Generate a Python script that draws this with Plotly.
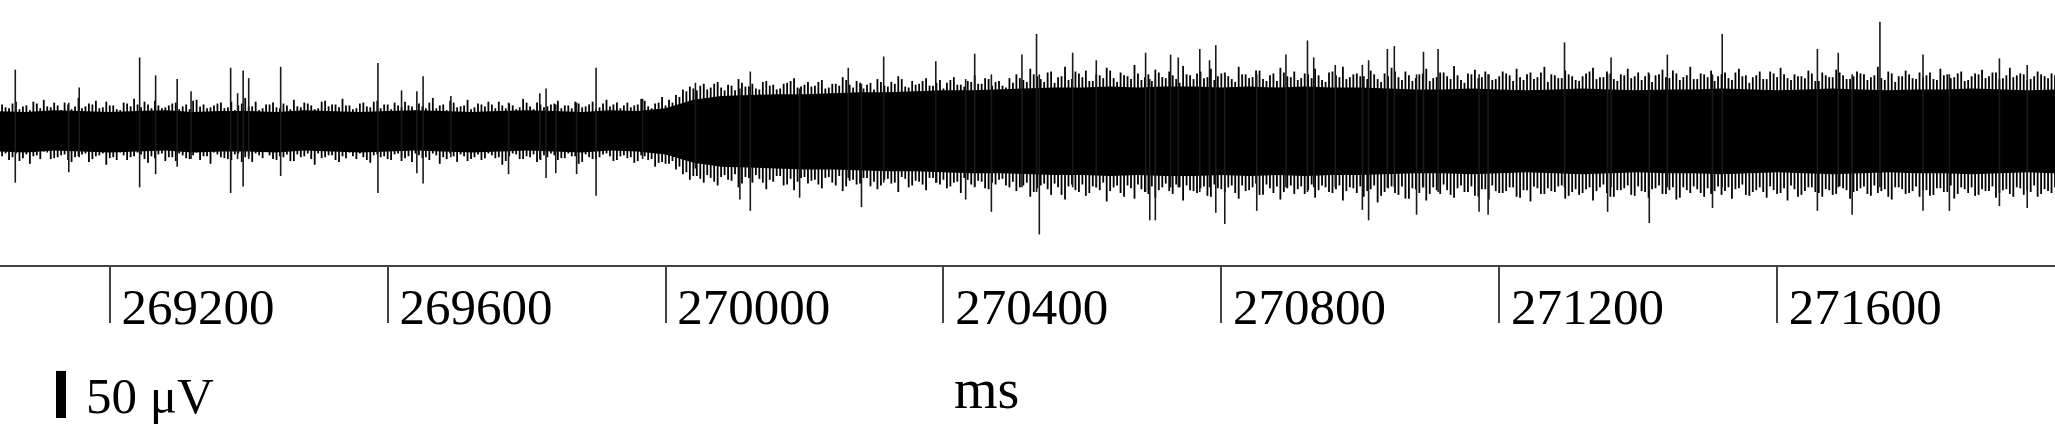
import plotly.graph_objects as go

# ---------------- data (µV vs ms) ----------------
x_range = [269042, 272000]
tick_vals = [269200, 269600, 270000, 270400, 270800, 271200, 271600]
tick_text = ["269200", "269600", "270000", "270400", "270800", "271200", "271600"]

# dense core of the recording, sampled every 40 ms from 269040 ms
core_t0, core_dt = 269040, 40
core_hi = [21, 20, 22, 21, 20, 21, 22, 20, 21, 21, 20, 22, 21, 20, 21, 22, 21, 20, 21, 22, 21, 20, 22, 21,
           24, 33, 37, 38, 39, 39, 40, 41, 41, 42, 43, 43, 44, 45, 46, 46, 47, 46, 47, 47, 46, 47, 46, 47, 46, 46,
           45, 44, 44, 45, 44, 43, 44, 45, 44, 43, 44, 44, 45, 44, 43, 44, 45, 44, 43, 44, 44, 45, 44, 43, 44]
core_lo = [-22, -23, -21, -22, -23, -22, -21, -23, -22, -22, -23, -21, -22, -23, -22, -21, -22, -23, -22, -21, -22, -23, -21, -22,
           -25, -34, -38, -39, -40, -41, -41, -42, -43, -43, -44, -45, -45, -46, -47, -47, -48, -47, -48, -48, -47, -48, -47, -48, -47, -47,
           -46, -45, -45, -46, -45, -44, -45, -46, -45, -44, -45, -45, -46, -45, -44, -45, -46, -45, -44, -45, -45, -46, -45, -44, -45]

# outer fringe of the trace (peak excursions) every 10 ms from 269045 ms
fringe_t0, fringe_dt = 269045, 10
fringe_hi = [
    28, 24, 31, 26, 22, 29, 33, 25, 27, 30, 23, 35, 26, 28, 24, 31, 27, 22, 29, 34,
    25, 28, 32, 24, 27, 30, 26, 23, 33, 28, 25, 29, 24, 31, 27, 35, 26, 22, 28, 30,
    24, 27, 33, 25, 29, 23, 31, 26, 28, 34, 27, 24, 30, 25, 32, 28, 23, 27, 31, 26,
    29, 24, 35, 27, 22, 30, 26, 33, 25, 28, 31, 24, 27, 29, 23, 34, 26, 30, 25, 28,
    32, 27, 24, 29, 26, 31, 25, 33, 28, 24, 30, 27, 34, 26, 29, 36,
    33, 38, 44, 47, 43, 50, 46, 52, 43, 48, 55, 47, 50, 44, 53, 49, 45, 51, 56, 47,
    52, 48, 54, 46, 50, 57, 49, 53, 45, 51, 55, 48, 52, 58, 47, 53, 50, 56, 48, 54,
    51, 57, 49, 53, 59, 50, 55, 52, 48, 56,
    60, 54, 66, 58, 52, 63, 57, 68, 55, 61, 64, 53, 59, 67, 56, 62, 58, 70, 54, 60,
    65, 57, 63, 55, 69, 59, 61, 56, 66, 58, 62, 55, 68, 60, 57, 64, 53, 61, 67, 58,
    63, 56, 60, 66, 54, 62, 59, 68, 57, 61,
    58, 64, 55, 61, 67, 57, 63, 53, 60, 66, 56, 62, 58, 69, 54, 61, 65, 57, 60, 55,
    63, 59, 66, 54, 62, 57, 68, 60, 56, 64, 58, 53, 61, 67, 57, 63, 55, 60, 66, 58,
    54, 62, 59, 65, 56, 61, 57, 68, 55, 60, 64, 58, 62, 54, 66, 59, 57, 63, 55, 61,
    67, 56, 60, 58, 64, 53, 62, 57, 65, 59, 55, 63, 60, 57, 68, 54, 61, 58, 64, 56,
    62, 59, 55, 66, 60, 57, 63, 54, 61, 65, 58, 62, 56, 67, 59, 60, 55, 63, 58, 61]
fringe_lo = [
    -27, -31, -24, -29, -35, -26, -22, -30, -28, -25, -33, -27, -24, -30, -26, -36, -28, -23, -31, -27,
    -25, -34, -29, -24, -28, -32, -26, -30, -23, -27, -35, -25, -29, -31, -24, -28, -33, -26, -22, -30,
    -27, -25, -32, -28, -24, -36, -29, -26, -31, -27, -23, -30, -28, -34, -25, -27, -31, -24, -29, -33,
    -26, -28, -24, -35, -30, -27, -25, -32, -28, -31, -24, -29, -36, -27, -25, -30, -28, -33, -26, -24,
    -31, -29, -27, -35, -25, -30, -28, -24, -32, -27, -29, -34, -26, -31, -38, -33,
    -35, -41, -46, -52, -48, -55, -50, -58, -47, -53, -60, -49, -55, -51, -62, -54, -48, -57, -63, -50,
    -56, -52, -61, -49, -58, -64, -53, -57, -50, -59, -62, -52, -56, -65, -51, -58, -54, -63, -50, -57,
    -61, -55, -66, -52, -59, -54, -62, -57, -51, -60,
    -64, -58, -70, -61, -56, -68, -60, -73, -57, -65, -69, -59, -63, -75, -60, -66, -58, -72, -62, -67,
    -71, -60, -64, -57, -74, -63, -66, -59, -70, -61, -65, -58, -72, -64, -60, -68, -57, -66, -73, -61,
    -67, -59, -63, -71, -58, -65, -62, -74, -60, -66,
    -70, -62, -76, -65, -59, -68, -72, -61, -66, -74, -60, -67, -63, -71, -58, -65, -69, -62, -73, -64,
    -66, -60, -70, -63, -75, -61, -67, -64, -59, -72, -65, -68, -62, -74, -60, -66, -70, -63, -58, -69,
    -64, -71, -61, -67, -63, -73, -60, -66, -62, -70, -67, -59, -64, -72, -61, -68, -65, -60, -71, -63,
    -66, -74, -62, -68, -60, -65, -70, -63, -67, -61, -72, -64, -59, -69, -66, -62, -73, -60, -67, -64,
    -70, -63, -68, -61, -65, -72, -60, -66, -69, -62, -64, -71, -63, -67, -60, -68, -65, -70, -62, -66]

# second set of fringe excursions, every 10 ms from 269050 ms (between the first set)
fringe2_t0, fringe2_dt = 269050, 10
fringe2_hi = [
    25, 29, 23, 27, 31, 24, 26, 30, 22, 28, 26, 24, 29, 32, 25, 27, 23, 30, 26, 28,
    31, 24, 27, 25, 29, 23, 28, 32, 26, 24, 27, 30, 25, 22, 29, 26, 31, 24, 28, 25,
    29, 23, 26, 30, 27, 24, 32, 28, 25, 27, 23, 29, 26, 31, 24, 28, 30, 25, 27, 22,
    26, 30, 24, 28, 32, 25, 27, 23, 29, 26, 28, 31, 24, 27, 25, 30, 23, 28, 26, 29,
    24, 27, 31, 25, 28, 23, 29, 26, 30, 27, 25, 28, 32, 24, 30, 27,
    30, 36, 42, 45, 48, 44, 50, 46, 49, 43, 51, 47, 45, 52, 48, 44, 50, 53, 46, 49,
    47, 52, 45, 50, 48, 54, 46, 51, 49, 44, 52, 47, 50, 55, 46, 49, 53, 48, 51, 45,
    54, 49, 47, 52, 50, 56, 48, 53, 46, 51,
    56, 52, 60, 55, 62, 51, 58, 54, 63, 57, 53, 60, 56, 64, 52, 59, 55, 61, 57, 53,
    62, 56, 59, 51, 60, 55, 63, 57, 54, 61, 58, 52, 60, 56, 64, 55, 59, 53, 62, 57,
    54, 61, 56, 59, 52, 63, 57, 55, 60, 58,
    55, 60, 52, 58, 63, 54, 59, 56, 61, 53, 57, 62, 55, 59, 51, 60, 56, 63, 54, 58,
    61, 53, 57, 60, 55, 62, 52, 59, 56, 60, 54, 58, 63, 55, 57, 61, 53, 59, 56, 62,
    58, 52, 60, 57, 64, 54, 59, 55, 61, 57, 53, 60, 56, 62, 58, 51, 59, 55, 63, 57,
    60, 54, 58, 56, 61, 53, 59, 57, 62, 55, 58, 61, 54, 59, 56, 63, 52, 58, 60, 55,
    57, 62, 54, 59, 56, 61, 53, 58, 60, 56, 62, 55, 59, 57, 61, 54, 58, 60, 56, 59]
fringe2_lo = [
    -24, -28, -32, -25, -27, -30, -23, -29, -26, -31, -28, -25, -33, -27, -24, -29, -31, -26, -28, -23,
    -30, -27, -25, -32, -28, -24, -29, -26, -31, -27, -23, -28, -30, -25, -33, -27, -24, -29, -26, -31,
    -28, -32, -25, -27, -30, -24, -28, -26, -33, -29, -27, -24, -31, -26, -28, -30, -25, -32, -27, -24,
    -29, -31, -26, -28, -24, -33, -27, -30, -25, -29, -26, -28, -32, -24, -30, -27, -25, -31, -28, -26,
    -29, -24, -27, -33, -28, -30, -25, -27, -31, -26, -28, -32, -27, -30, -34, -35,
    -32, -38, -44, -48, -51, -47, -54, -49, -52, -46, -56, -50, -47, -55, -52, -48, -58, -51, -54, -49,
    -53, -57, -50, -55, -48, -59, -52, -56, -50, -54, -58, -51, -55, -49, -60, -53, -57, -50, -55, -52,
    -59, -54, -50, -57, -53, -61, -55, -52, -58, -54,
    -60, -55, -65, -58, -62, -56, -68, -59, -63, -57, -66, -60, -55, -64, -58, -70, -61, -57, -65, -59,
    -63, -56, -67, -60, -58, -64, -61, -69, -57, -62, -60, -66, -58, -63, -56, -68, -61, -59, -65, -58,
    -62, -67, -57, -63, -60, -66, -58, -64, -61, -59,
    -64, -58, -69, -61, -66, -59, -72, -62, -60, -67, -63, -57, -68, -61, -65, -59, -70, -62, -58, -66,
    -64, -60, -71, -63, -59, -67, -61, -65, -58, -69, -62, -66, -60, -64, -57, -70, -63, -61, -68, -59,
    -65, -62, -58, -67, -60, -71, -63, -59, -66, -61, -64, -68, -60, -62, -57, -69, -63, -65, -59, -67,
    -61, -58, -70, -64, -60, -66, -62, -68, -59, -63, -65, -61, -67, -58, -64, -70, -60, -62, -66, -59,
    -63, -69, -61, -65, -58, -67, -62, -60, -68, -64, -59, -66, -62, -70, -61, -63, -58, -67, -64, -60]

# prominent single spikes (time ms, positive peak µV, negative peak µV)
spike_t = [269064, 269141, 269156, 269243, 269266, 269297, 269317, 269374, 269384, 269392, 269400, 269446,
           269586, 269620, 269642, 269651, 269691, 269774, 269819, 269828, 269842, 269872, 269900, 269967,
           270043, 270107, 270122, 270193, 270263, 270282, 270314, 270389, 270432, 270445, 270469, 270513,
           270534, 270538, 270586, 270620, 270691, 270697, 270705, 270727, 270738, 270769, 270783, 270792,
           270805, 270851, 270893, 270924, 270933, 270964, 271003, 271012, 271039, 271049, 271081, 271091,
           271112, 271171, 271184, 271294, 271356, 271361, 271416, 271442, 271507, 271521, 271658, 271688,
           271708, 271748, 271810, 271848, 271920, 271960]
spike_hi = [65, 30, 46, 78, 59, 55, 42, 67, 40, 64, 56, 68,
            72, 43, 42, 58, 37, 30, 40, 45, 28, 30, 67, 34,
            51, 45, 63, 45, 67, 50, 79, 74, 55, 82, 60, 81,
            103, 60, 83, 75, 83, 55, 55, 81, 78, 87, 75, 91,
            60, 60, 81, 96, 78, 70, 70, 75, 87, 90, 60, 84,
            87, 60, 60, 94, 60, 78, 60, 81, 60, 103, 87, 83,
            60, 116, 81, 60, 77, 70]
spike_lo = [-55, -44, -28, -60, -46, -38, -30, -66, -30, -59, -30, -48,
            -66, -28, -45, -56, -28, -46, -30, -50, -45, -46, -69, -30,
            -40, -73, -85, -71, -50, -81, -55, -55, -73, -60, -86, -60,
            -65, -110, -60, -60, -65, -95, -95, -60, -60, -65, -60, -87,
            -99, -85, -60, -65, -60, -60, -84, -95, -60, -60, -89, -60,
            -65, -86, -89, -60, -86, -60, -98, -60, -82, -60, -85, -60,
            -89, -60, -85, -85, -80, -82]

y_range = [-142.5, 139]
scale_bar_uv = 50

# ---------------- build figure ----------------
core_t = [core_t0 + core_dt * i for i in range(len(core_hi))]

fig = go.Figure()

fig.add_trace(go.Scatter(x=core_t, y=core_lo, mode="lines", line=dict(width=0, color="black"),
                         hoverinfo="skip", showlegend=False))
fig.add_trace(go.Scatter(x=core_t, y=core_hi, mode="lines", line=dict(width=0, color="black"),
                         fill="tonexty", fillcolor="black", hoverinfo="skip", showlegend=False))


def segments(ts, his, los):
    xs, ys = [], []
    for t, hi, lo in zip(ts, his, los):
        xs += [t, t, None]
        ys += [lo, hi, None]
    return xs, ys


n1 = min(len(fringe_hi), len(fringe_lo))
fx, fy = segments([fringe_t0 + fringe_dt * i for i in range(n1)], fringe_hi, fringe_lo)
fig.add_trace(go.Scatter(x=fx, y=fy, mode="lines", line=dict(width=1.8, color="black"),
                         hoverinfo="skip", showlegend=False))

n2 = min(len(fringe2_hi), len(fringe2_lo))
gx, gy = segments([fringe2_t0 + fringe2_dt * i for i in range(n2)], fringe2_hi, fringe2_lo)
fig.add_trace(go.Scatter(x=gx, y=gy, mode="lines", line=dict(width=1.8, color="black"),
                         hoverinfo="skip", showlegend=False))

sx, sy = segments(spike_t, spike_hi, spike_lo)
fig.add_trace(go.Scatter(x=sx, y=sy, mode="lines", line=dict(width=1.6, color="#1a1a1a"),
                         hoverinfo="skip", showlegend=False))

W, H = 2055, 428
plot_h = 265
span = y_range[1] - y_range[0]
bar_bottom = (plot_h - 418) / plot_h
bar_top = bar_bottom + scale_bar_uv / span

fig.add_shape(type="rect", xref="paper", yref="paper",
              x0=56 / W, x1=66 / W, y0=bar_bottom, y1=bar_top,
              fillcolor="black", line=dict(width=0))

fig.add_annotation(text="50 μV", xref="paper", yref="paper", x=84 / W, y=(plot_h - 396) / plot_h,
                   xanchor="left", yanchor="middle", showarrow=False,
                   font=dict(family="Liberation Serif", size=51, color="black"))
fig.add_annotation(text="ms", xref="paper", yref="paper", x=986 / W, y=(plot_h - 389) / plot_h,
                   xanchor="center", yanchor="middle", showarrow=False,
                   font=dict(family="Liberation Serif", size=56, color="black"))

fig.update_layout(
    width=W, height=H,
    margin=dict(l=0, r=0, t=0, b=H - plot_h, pad=0),
    paper_bgcolor="white", plot_bgcolor="white",
    showlegend=False,
    xaxis=dict(range=x_range, showgrid=False, zeroline=False, automargin=False,
               showline=True, linecolor="#444444", linewidth=2,
               ticks="outside", ticklen=56, tickwidth=1.5, tickcolor="#444444",
               tickvals=tick_vals, ticktext=tick_text,
               ticklabelposition="outside right", ticklabelshift=10, ticklabelstandoff=-4,
               tickfont=dict(family="Liberation Serif", size=51, color="black")),
    yaxis=dict(range=y_range, visible=False, automargin=False),
)

fig.write_html("out.html", config={"displayModeBar": False},
               post_script="document.body.style.margin='0px';document.body.style.overflow='hidden';")
